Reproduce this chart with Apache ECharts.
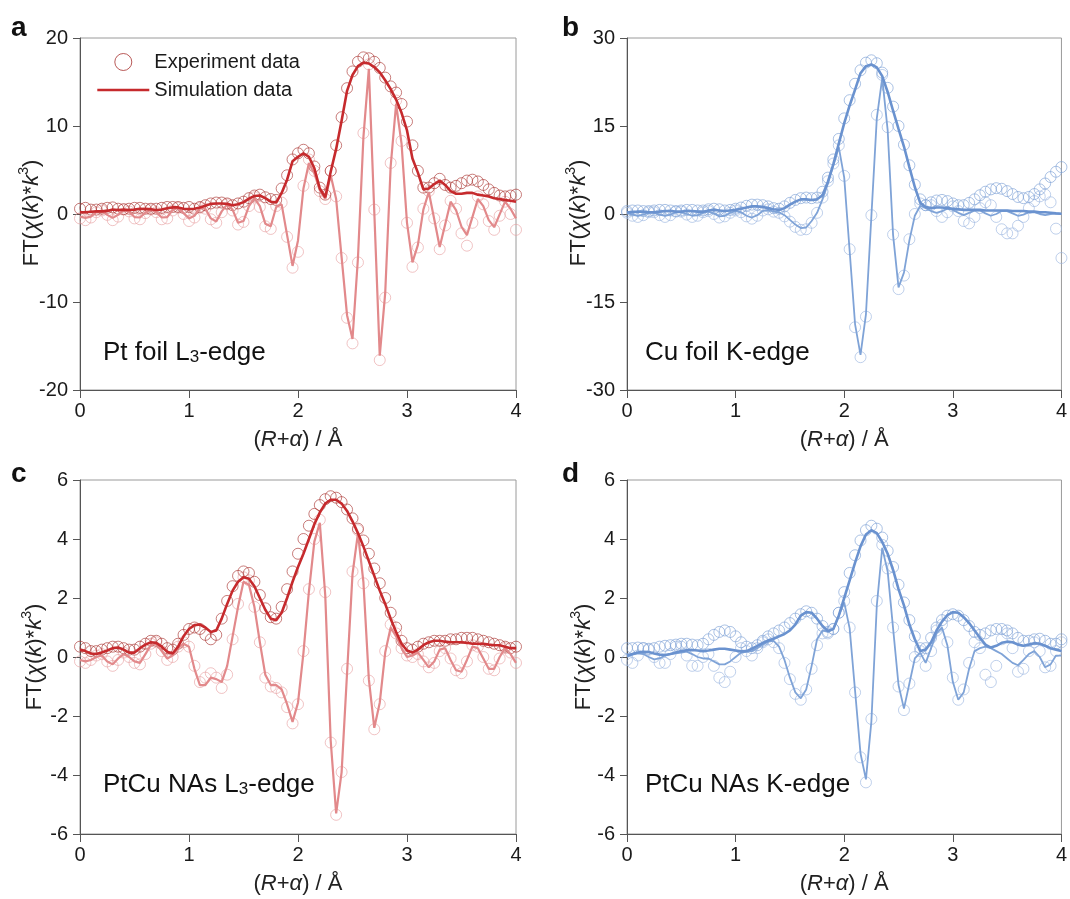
<!DOCTYPE html>
<html><head><meta charset="utf-8">
<script src="https://cdn.jsdelivr.net/npm/echarts@6/dist/echarts.min.js"></script>
<style>html,body{margin:0;padding:0;background:#fff}#c{width:1070px;height:899px}</style>
</head><body><div id="c"></div><script>
// R grid (Å)
const R = [0,0.05,0.1,0.15,0.2,0.25,0.3,0.35,0.4,0.45,0.5,0.55,0.6,0.65,0.7,0.75,0.8,0.85,0.9,0.95,
1,1.05,1.1,1.15,1.2,1.25,1.3,1.35,1.4,1.45,1.5,1.55,1.6,1.65,1.7,1.75,1.8,1.85,1.9,1.95,
2,2.05,2.1,2.15,2.2,2.25,2.3,2.35,2.4,2.45,2.5,2.55,2.6,2.65,2.7,2.75,2.8,2.85,2.9,2.95,
3,3.05,3.1,3.15,3.2,3.25,3.3,3.35,3.4,3.45,3.5,3.55,3.6,3.65,3.7,3.75,3.8,3.85,3.9,3.95,4];
const xTicks = [0,1,2,3,4];

// a: Pt foil L3-edge
const aMagFit = [0.2,0.2,0.25,0.3,0.3,0.35,0.5,0.45,0.5,0.45, 0.5,0.6,0.55,0.55,0.45,0.5,0.65,0.75,0.75,0.6,
0.55,0.6,0.75,0.95,1.15,1.2,1.2,1.15,1.0,1.1, 1.35,1.75,2.05,2.1,1.8,1.4,1.3,2.4,3.9,6.0,
6.5,6.9,6.5,5.2,2.9,1.9,4.8,7.4,10.6,14.0, 15.8,16.8,17.2,17.1,16.7,16.1,15.2,14.2,13.0,11.5,
9.5,6.3,4.7,2.8,2.9,3.4,3.8,3.3,2.6,2.3, 2.3,2.4,2.4,2.2,2.1,2.0,1.8,1.7,1.6,1.5, 1.4];
const aImFit = [-0.3,-0.44,-0.3,0.2,0.3,-0.1,-0.44,-0.1,0.44,0.25, -0.35,-0.4,0.15,0.5,0.2,-0.4,-0.35,0.45,0.7,0.1,
-0.5,-0.2,0.7,0.6,-0.5,-0.85,0.3,1.1,0.5,-1.0, -0.8,0.9,1.8,0.9,-1.1,-1.4,0.8,1.1,-2.4,-5.9,
-3.0,2.9,5.8,4.6,2.7,1.7,4.4,1.7,-4.9,-11.5, -14.2,-5.0,8.7,16.5,0.2,-16.1,-9.0,5.4,12.5,8.0,
-1.0,-5.5,-3.5,0.5,2.5,-0.6,-3.75,-1.2,1.4,0.45, -1.45,-2.4,-0.35,1.7,0.9,-0.7,-1.5,-0.05,1.4,0.6, -0.5];
const aMagExp = [0.6,0.7,0.5,0.5,0.6,0.7,0.75,0.6,0.55,0.6, 0.7,0.7,0.6,0.6,0.6,0.7,0.8,0.8,0.8,0.7,
0.8,0.6,0.8,1.0,1.2,1.3,1.3,1.2,1.0,1.2, 1.4,1.8,2.1,2.2,1.9,1.7,1.6,2.9,4.4,6.2,
6.9,7.3,6.9,5.4,3.0,2.2,4.9,7.8,11.0,14.3, 16.2,17.3,17.8,17.7,17.3,16.6,15.5,14.5,13.8,12.5,
10.5,7.8,4.9,3.0,3.0,3.5,4.0,3.3,3.0,3.2, 3.5,3.8,3.9,3.7,3.3,2.8,2.4,2.1,2.0,2.1, 2.2];
const aImExp = [-0.5,-0.7,-0.4,0.2,0.4,-0.1,-0.7,-0.3,0.5,0.3, -0.5,-0.6,0.1,0.5,0.2,-0.6,-0.5,0.4,0.7,0.0,
-0.8,-0.4,0.7,0.6,-0.6,-1.0,0.2,1.1,0.4,-1.2, -0.9,0.9,1.9,0.8,-1.4,-1.7,0.9,1.3,-2.6,-6.1,
-4.3,3.2,6.2,4.9,2.6,1.7,4.9,2.0,-5.0,-11.8, -14.7,-5.5,9.2,17.0,0.5,-16.6,-9.5,5.8,12.9,8.3,
-1.0,-6.0,-3.8,0.6,2.6,-0.5,-4.0,-1.3,1.5,0.6, -2.2,-3.6,-1.0,2.0,1.1,-0.8,-1.8,-0.2,1.4,0.0, -1.8];

// b: Cu foil K-edge
const bMagFit = [0.3,0.3,0.4,0.4,0.3,0.3,0.4,0.5,0.5,0.4, 0.4,0.5,0.5,0.4,0.4,0.6,0.7,0.6,0.5,0.6,
0.7,0.9,1.1,1.3,1.3,1.2,1.0,0.8,0.7,1.0, 1.6,2.1,2.5,2.5,2.4,2.5,3.2,5.5,8.5,12.0,
15.5,18.5,21.2,24.0,25.2,25.5,25.0,23.5,20.8,17.6, 14.5,11.5,8.0,4.6,1.9,1.2,1.0,1.1,1.1,1.0,
0.9,0.8,0.7,0.7,0.7,0.7,0.6,0.6,0.6,0.6, 0.6,0.5,0.5,0.5,0.4,0.4,0.3,0.3,0.2,0.1, 0.05];
const bImFit = [0.2,-0.1,-0.3,-0.1,0.2,0.2,-0.1,-0.3,-0.1,0.3, 0.3,0.0,-0.3,-0.2,0.2,0.4,0.1,-0.4,-0.3,0.2,
0.5,0.3,-0.3,-0.6,-0.2,0.5,0.7,0.4,0.3,-0.2, -1.0,-1.8,-2.4,-2.3,-1.2,0.2,2.5,5.2,8.3,11.4,
6.2,-6.3,-18.8,-24.0,-17.1,-0.4,16.3,23.2,14.3,-3.6, -12.5,-10.0,-4.5,-0.3,1.4,1.0,0.5,0.2,0.5,0.9,
0.7,0.2,-0.2,0.2,0.6,0.6,0.1,-0.3,0.0,0.5, 0.5,0.1,-0.3,-0.1,0.3,0.3,0.0,-0.2,0.0,0.1, 0.0];
const bMagExp = [0.5,0.6,0.6,0.5,0.5,0.6,0.7,0.7,0.6,0.5, 0.6,0.7,0.7,0.6,0.6,0.8,0.9,0.8,0.6,0.7,
0.9,1.1,1.4,1.6,1.6,1.5,1.3,1.0,0.9,1.3, 1.9,2.4,2.7,2.8,2.7,2.8,3.8,6.2,9.3,12.8,
16.3,19.4,22.2,24.5,25.8,26.2,25.7,24.1,21.5,18.3, 15.0,11.8,8.3,5.0,2.5,1.5,2.0,2.3,2.4,2.2,
1.8,1.5,1.5,1.9,2.5,3.2,3.8,4.2,4.4,4.3, 3.9,3.4,2.9,2.7,2.9,3.4,4.2,5.2,6.3,7.2, 8.0];
const bImExp = [0.2,-0.3,-0.5,-0.2,0.3,0.3,-0.2,-0.5,-0.2,0.4, 0.4,-0.1,-0.5,-0.3,0.3,0.5,0.0,-0.6,-0.4,0.2,
0.6,0.3,-0.4,-0.8,-0.3,0.6,0.8,0.4,0.2,-0.4, -1.3,-2.2,-2.7,-2.6,-1.5,0.2,2.8,5.6,8.6,11.7,
6.5,-6.0,-19.3,-24.4,-17.5,-0.2,16.9,23.7,14.8,-3.5, -12.8,-10.5,-4.3,0.0,1.8,1.5,1.5,0.5,-0.5,0.3,
1.3,0.5,-1.2,-1.6,-0.5,1.0,2.0,1.5,-0.5,-2.6, -3.3,-3.3,-2.0,-0.5,1.0,2.2,3.0,3.3,2.0,-2.5, -7.5];

// c: PtCu NAs L3-edge
const cMagFit = [0.25,0.2,0.12,0.1,0.15,0.22,0.3,0.32,0.25,0.15, 0.15,0.3,0.42,0.5,0.48,0.35,0.18,0.12,0.35,0.7,
0.95,1.08,1.1,1.0,0.85,0.9,1.3,1.8,2.25,2.55, 2.7,2.65,2.4,2.0,1.6,1.3,1.25,1.5,2.0,2.55,
3.05,3.5,4.0,4.5,4.9,5.2,5.33,5.33,5.2,4.95, 4.6,4.2,3.75,3.25,2.75,2.25,1.8,1.3,0.85,0.45,
0.22,0.15,0.25,0.4,0.5,0.55,0.55,0.52,0.5,0.5, 0.5,0.48,0.45,0.45,0.45,0.42,0.4,0.4,0.35,0.3, 0.3];
const cImFit = [-0.1,-0.15,-0.1,0.0,0.05,-0.15,-0.25,-0.05,0.1,0.0, -0.15,-0.2,0.1,0.4,0.45,0.2,-0.05,0.05,0.3,0.45,
0.35,-0.4,-0.95,-0.95,-0.7,-0.75,-0.85,-0.3,0.7,1.7, 2.55,2.45,1.7,0.5,-0.6,-0.95,-0.95,-1.1,-1.6,-2.2,
-1.55,0.14,2.22,3.91,4.55,2.09,-2.84,-5.3,-3.91,-0.55, 2.81,4.2,2.55,-0.75,-2.4,-1.55,0.15,1.0,0.7,0.3,
0.0,0.05,0.15,-0.1,-0.35,-0.15,0.25,0.3,-0.1,-0.45, -0.5,-0.1,0.35,0.3,-0.05,-0.4,-0.4,0.0,0.3,0.1, -0.2];
const cMagExp = [0.35,0.3,0.2,0.2,0.25,0.3,0.35,0.35,0.3,0.25, 0.25,0.35,0.45,0.55,0.55,0.45,0.3,0.25,0.45,0.75,
0.95,1.0,0.95,0.75,0.6,0.75,1.3,1.9,2.4,2.75, 2.9,2.85,2.55,2.1,1.65,1.35,1.3,1.7,2.3,2.9,
3.5,4.0,4.45,4.85,5.15,5.35,5.45,5.4,5.25,5.0, 4.7,4.35,3.95,3.5,3.0,2.5,2.0,1.5,1.0,0.55,
0.3,0.25,0.35,0.45,0.5,0.55,0.55,0.55,0.6,0.6, 0.65,0.65,0.65,0.6,0.55,0.5,0.45,0.4,0.35,0.3, 0.35];
const cImExp = [-0.15,-0.2,-0.1,0.05,0.1,-0.15,-0.3,-0.1,0.15,0.0, -0.2,-0.25,0.1,0.45,0.5,0.2,-0.1,0.0,0.35,0.5,
0.35,-0.3,-0.85,-0.7,-0.55,-0.7,-1.05,-0.6,0.6,1.8, 2.7,2.6,1.7,0.5,-0.7,-1.0,-1.05,-1.2,-1.7,-2.25,
-1.6,0.2,2.3,4.0,4.65,2.2,-2.9,-5.35,-3.9,-0.4, 2.9,4.3,2.5,-0.8,-2.45,-1.6,0.2,1.1,0.8,0.3,
0.05,0.0,0.1,-0.15,-0.35,-0.2,0.2,0.3,-0.05,-0.45, -0.55,-0.15,0.4,0.35,0.0,-0.4,-0.45,-0.05,0.3,0.15, -0.2];

// d: PtCu NAs K-edge
const dMagFit = [0.05,0.1,0.15,0.18,0.17,0.12,0.08,0.07,0.1,0.15, 0.2,0.23,0.24,0.22,0.2,0.22,0.25,0.28,0.28,0.25,
0.22,0.19,0.2,0.28,0.38,0.48,0.56,0.62,0.7,0.78, 0.9,1.1,1.4,1.52,1.5,1.3,1.05,0.88,0.95,1.4,
2.0,2.6,3.2,3.75,4.15,4.3,4.2,3.9,3.5,2.95, 2.3,1.75,1.1,0.6,0.2,0.25,0.5,0.9,1.2,1.42,
1.52,1.5,1.35,1.15,0.9,0.65,0.42,0.32,0.38,0.48, 0.52,0.5,0.42,0.38,0.42,0.47,0.45,0.38,0.3,0.25, 0.2];
const dImFit = [0.0,0.08,0.12,0.1,0.0,-0.08,-0.05,0.05,0.1,0.12, 0.15,0.18,0.1,0.0,-0.05,-0.05,-0.15,-0.25,-0.25,-0.15,
0.0,0.15,0.18,0.2,0.3,0.42,0.52,0.55,0.35,-0.1, -0.7,-1.2,-1.4,-1.1,-0.3,0.6,0.9,0.85,0.95,1.4,
1.85,0.97,-1.15,-3.27,-4.15,-2.19,1.74,3.7,2.9,0.97, -0.95,-1.75,-0.9,-0.05,0.15,-0.2,0.3,0.8,1.0,0.39,
-0.84,-1.45,-1.2,-0.4,0.2,0.3,0.35,0.3,0.2,0.1, -0.05,-0.2,-0.28,-0.1,0.1,0.2,0.0,-0.35,-0.25,0.05, 0.05];
const dMagExp = [0.3,0.3,0.32,0.3,0.28,0.3,0.35,0.38,0.4,0.42, 0.45,0.45,0.42,0.4,0.45,0.6,0.75,0.85,0.9,0.85,
0.7,0.5,0.35,0.3,0.4,0.55,0.7,0.8,0.9,1.0, 1.15,1.3,1.45,1.55,1.5,1.3,1.05,0.85,0.95,1.5,
2.2,2.85,3.45,3.95,4.3,4.45,4.35,4.05,3.6,3.05, 2.45,1.85,1.25,0.7,0.3,0.3,0.65,1.0,1.25,1.4,
1.45,1.4,1.25,1.05,0.85,0.75,0.8,0.9,0.95,0.95, 0.9,0.8,0.65,0.55,0.55,0.6,0.62,0.55,0.45,0.45, 0.6];
const dImExp = [-0.1,-0.2,0.05,0.3,0.25,0.0,-0.2,-0.2,0.1,0.35, 0.35,0.05,-0.3,-0.3,0.0,0.1,-0.3,-0.7,-0.85,-0.5,
0.0,0.3,0.2,0.05,0.3,0.5,0.6,0.5,0.3,-0.2, -0.75,-1.25,-1.45,-1.1,-0.4,0.4,0.8,0.8,0.95,1.5,
1.9,1.0,-1.2,-3.4,-4.25,-2.1,1.9,3.8,3.0,1.0, -1.0,-1.8,-0.9,0.0,0.2,-0.3,0.2,0.9,1.1,0.5,
-0.7,-1.45,-1.1,-0.2,0.5,0.3,-0.6,-0.85,-0.3,0.6, 0.8,0.3,-0.5,-0.4,0.2,0.5,0.2,-0.35,-0.3,0.2, 0.5];

const panelLetters = ['a','b','c','d'];
const panelLabels = [['Pt foil L','3','-edge'],['Cu foil K-edge','',''],['PtCu NAs L','3','-edge'],['PtCu NAs K-edge','','']];
const yRanges = [[-20,20,10],[-30,30,15],[-6,6,2],[-6,6,2]];
const legendNames = ['Experiment data','Simulation data'];

const FONT = '"Liberation Sans", Arial, sans-serif';
const RED = {mFit:'#c62a2d', mExp:'#a8322f', iFit:'#e2898b', iExp:'#e7a1a2', mW:2.6, iW:2.2};
const BLUE = {mFit:'#6a92cf', mExp:'#7b9fd5', iFit:'#7fa3d7', iExp:'#9ab5df', mW:2.6, iW:1.8};
const panels = [
  {mExp:aMagExp, iExp:aImExp, mFit:aMagFit, iFit:aImFit, pal:RED},
  {mExp:bMagExp, iExp:bImExp, mFit:bMagFit, iFit:bImFit, pal:BLUE},
  {mExp:cMagExp, iExp:cImExp, mFit:cMagFit, iFit:cImFit, pal:RED},
  {mExp:dMagExp, iExp:dImExp, mFit:dMagFit, iFit:dImFit, pal:BLUE}
];
const grids = [
  {left:80, top:38, width:436, height:352},
  {left:627, top:38, width:435, height:352},
  {left:80, top:480, width:436, height:354},
  {left:627, top:480, width:435, height:354}
];
const pairs = arr => R.map((x,k)=>[x, arr[k]]);

const nameRich = {
  n:{fontSize:22, color:'#222', fontFamily:FONT, lineHeight:25, verticalAlign:'bottom'},
  i:{fontSize:22, color:'#222', fontFamily:FONT, fontStyle:'italic', lineHeight:25, verticalAlign:'bottom'}
};
const yTitleRich = {
  n:{fontSize:22, fill:'#222', fontFamily:FONT, lineHeight:25, verticalAlign:'bottom'},
  i:{fontSize:22, fill:'#222', fontFamily:FONT, fontStyle:'italic', lineHeight:25, verticalAlign:'bottom'},
  u:{fontSize:14, fill:'#222', fontFamily:FONT, lineHeight:10, verticalAlign:'top'}
};
const yTitleText = '{n|FT(}{i|χ}{n|(}{i|k}{n|)*}{i|k}{u|3}{n|)}';
const yTitlePos = [[30,213],[577,213],[33,657],[582,657]];

const xAxes = grids.map((g,i)=>({
  gridIndex:i, type:'value', min:0, max:4, interval:1,
  axisLine:{show:true, onZero:false, lineStyle:{color:'#555', width:1}},
  axisTick:{show:true, inside:false, length:8, lineStyle:{color:'#555'}},
  axisLabel:{fontSize:20, color:'#1a1a1a', margin:11, fontFamily:FONT},
  splitLine:{show:false},
  name:'{n|(}{i|R}{n|+}{i|α}{n|) / Å}', nameLocation:'middle', nameGap:36,
  nameTextStyle:{rich:nameRich}
}));
const yAxes = grids.map((g,i)=>({
  gridIndex:i, type:'value', min:yRanges[i][0], max:yRanges[i][1], interval:yRanges[i][2],
  axisLine:{show:true, onZero:false, lineStyle:{color:'#555', width:1}},
  axisTick:{show:true, inside:false, length:7, lineStyle:{color:'#555'}},
  axisLabel:{fontSize:20, color:'#1a1a1a', margin:12, fontFamily:FONT},
  splitLine:{show:false}
}));

const series = [];
panels.forEach((p,i)=>{
  const first = i===0;
  series.push({type:'scatter', name:'imExp'+i, xAxisIndex:i, yAxisIndex:i, data:pairs(p.iExp),
    symbol:'circle', symbolSize:11, z:2, silent:true,
    itemStyle:{color:'rgba(0,0,0,0)', borderColor:p.pal.iExp, borderWidth:0.8}});
  series.push({type:'scatter', name: first?legendNames[0]:'magExp'+i, xAxisIndex:i, yAxisIndex:i, data:pairs(p.mExp),
    symbol:'circle', symbolSize:11, z:2, silent:true,
    itemStyle:{color:'rgba(0,0,0,0)', borderColor:p.pal.mExp, borderWidth:0.8}});
  series.push({type:'line', name:'imFit'+i, xAxisIndex:i, yAxisIndex:i, data:pairs(p.iFit),
    symbol:'none', z:3, silent:true, lineStyle:{color:p.pal.iFit, width:p.pal.iW}, itemStyle:{color:p.pal.iFit}});
  series.push({type:'line', name: first?legendNames[1]:'magFit'+i, xAxisIndex:i, yAxisIndex:i, data:pairs(p.mFit),
    symbol:'none', z:4, silent:true, lineStyle:{color:p.pal.mFit, width:p.pal.mW}, itemStyle:{color:p.pal.mFit}});
});

const labelRich = {
  a:{fontSize:26, fill:'#111', fontFamily:FONT, lineHeight:27, verticalAlign:'bottom'},
  s:{fontSize:17, fill:'#111', fontFamily:FONT, lineHeight:6, verticalAlign:'bottom'}
};
const labelPos = [[103,339],[645,339],[103,771],[645,771]];
const letterPos = [[11,14],[562,14],[11,460],[562,460]];
const graphic = [];
panelLetters.forEach((t,i)=>{
  graphic.push({type:'text', x:letterPos[i][0], y:letterPos[i][1],
    style:{text:t, font:'bold 28px '+FONT, fill:'#111'}});
});
panelLabels.forEach((l,i)=>{
  let txt = '{a|'+l[0]+'}' + (l[1] ? '{s|'+l[1]+'}' : '') + (l[2] ? '{a|'+l[2]+'}' : '');
  graphic.push({type:'text', x:labelPos[i][0], y:labelPos[i][1],
    style:{text:txt, rich:labelRich, fill:'#111'}});
});
yTitlePos.forEach(p=>{
  graphic.push({type:'text', x:p[0], y:p[1], rotation:Math.PI/2,
    style:{text:yTitleText, rich:yTitleRich, align:'center', verticalAlign:'middle', fill:'#222'}});
});

const chart = echarts.init(document.getElementById('c'), null, {renderer:'canvas'});
chart.setOption({
  animation:false,
  backgroundColor:'#fff',
  textStyle:{fontFamily:FONT},
  grid: grids.map(g=>Object.assign({show:true, borderColor:'#9a9a9a', borderWidth:1, containLabel:false}, g)),
  xAxis:xAxes, yAxis:yAxes,
  legend:{show:true, orient:'vertical', left:96, top:52, padding:0, itemWidth:52, itemHeight:17, itemGap:8,
    selectedMode:false, textStyle:{fontSize:20, color:'#1a1a1a', fontFamily:FONT},
    data:[{name:legendNames[0], icon:'circle', itemStyle:{color:'rgba(0,0,0,0)', borderColor:RED.mExp, borderWidth:1}},
          {name:legendNames[1], itemStyle:{opacity:0}, lineStyle:{color:RED.mFit, width:2.6, opacity:1}}]},
  series:series,
  graphic:graphic
});
</script></body></html>
